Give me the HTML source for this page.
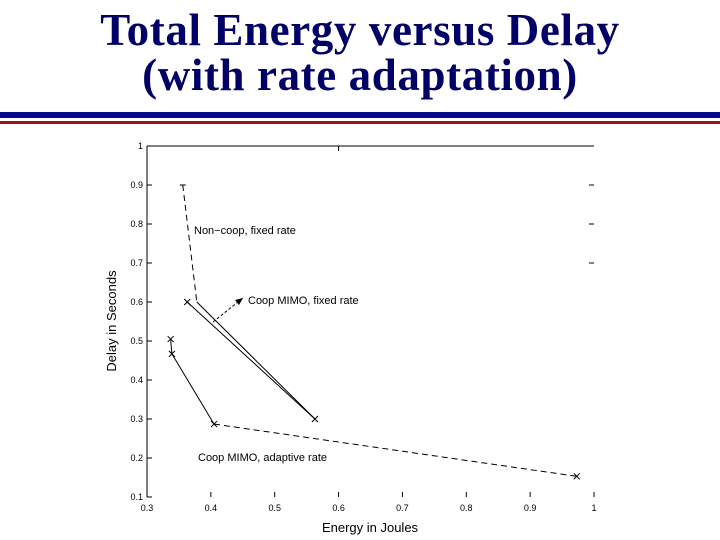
<!DOCTYPE html>
<html><head><meta charset="utf-8"><style>
body{margin:0;background:#fff;width:720px;height:540px;overflow:hidden;position:relative;font-family:"Liberation Sans",sans-serif}
#title{position:absolute;left:0;width:720px;top:8px;text-align:center;font-family:"Liberation Serif",serif;font-weight:bold;font-size:45px;letter-spacing:0.6px;line-height:45px;color:#000066}
</style></head><body>
<div id="title">Total Energy versus Delay<br>(with rate adaptation)</div>
<div style="position:absolute;left:0;top:112px;width:720px;height:6px;background:#0a0a8a"></div>
<div style="position:absolute;left:0;top:121px;width:720px;height:3px;background:#a01020"></div>
<svg id="chart" width="720" height="540" style="position:absolute;left:0;top:0" font-family="Liberation Sans, sans-serif"></svg>
<script>
const xTicks=[0.3,0.4,0.5,0.6,0.7,0.8,0.9,1];
const yTicks=[0.1,0.2,0.3,0.4,0.5,0.6,0.7,0.8,0.9,1];
const noncoopX=[0.356,0.378,0.563];
const noncoopY=[0.9,0.6,0.3];
const coopFixedX=[0.363,0.563];
const coopFixedY=[0.6,0.3];
const adaptiveX=[0.337,0.339,0.405,0.973];
const adaptiveY=[0.505,0.467,0.287,0.153];
const X=v=>147+(v-0.3)/0.7*447;
const Y=v=>497-(v-0.1)/0.9*351;
const svg=document.getElementById('chart');
const NS='http://www.w3.org/2000/svg';
function mk(t,a,p){const e=document.createElementNS(NS,t);for(const k in a)e.setAttribute(k,a[k]);(p||svg).appendChild(e);return e;}
let e;
e=mk('line',{x1:147,y1:146,x2:594,y2:146,stroke:'#000','stroke-width':1});


e=mk('line',{x1:147,y1:146,x2:147,y2:497,stroke:'#000','stroke-width':1});


xTicks.forEach((t,i)=>{
 e=mk('line',{x1:X(t),y1:497,x2:X(t),y2:492,stroke:'#000'});
 
 
 e=mk('text',{x:X(t),y:511,'font-size':9,'text-anchor':'middle',fill:'#000'});e.textContent=String(t);
 
 
});
e=mk('line',{x1:X(0.6),y1:146,x2:X(0.6),y2:151,stroke:'#000'});


yTicks.forEach((t,i)=>{
 e=mk('line',{x1:147,y1:Y(t),x2:152,y2:Y(t),stroke:'#000'});
 
 
 if(t>=0.7&&t<=0.9){e=mk('line',{x1:589,y1:Y(t),x2:594,y2:Y(t),stroke:'#000'});
 
 }
 e=mk('text',{x:143,y:Y(t)+3,'font-size':9,'text-anchor':'end',fill:'#000'});e.textContent=t===1?'1':t.toFixed(1);
 
 
});
e=mk('text',{x:370,y:532,'font-size':13,'text-anchor':'middle'});e.textContent='Energy in Joules';


e=mk('text',{x:116,y:321,'font-size':13,'text-anchor':'middle',transform:'rotate(-90 116 321)'});e.textContent='Delay in Seconds';


function seg(xs,ys,i,dash,name){e=mk('line',{x1:X(xs[i]),y1:Y(ys[i]),x2:X(xs[i+1]),y2:Y(ys[i+1]),stroke:'#000','stroke-width':1,'stroke-dasharray':dash});
 
 }
function cross(x,y,name){e=mk('path',{d:`M${X(x)-3},${Y(y)-3}L${X(x)+3},${Y(y)+3}M${X(x)-3},${Y(y)+3}L${X(x)+3},${Y(y)-3}`,stroke:'#000','stroke-width':1});
 
 }
seg(noncoopX,noncoopY,0,'6,4','noncoop-line');
seg(noncoopX,noncoopY,1,'','noncoop-line');
e=mk('path',{d:`M${X(noncoopX[0])-3},${Y(noncoopY[0])}h6`,stroke:'#000'});


for(let i=0;i<coopFixedX.length-1;i++)seg(coopFixedX,coopFixedY,i,'','coop-fixed-line');
coopFixedX.forEach((x,i)=>cross(x,coopFixedY[i],'coop-fixed-marker'));
seg(adaptiveX,adaptiveY,0,'','adaptive-line');
seg(adaptiveX,adaptiveY,1,'','adaptive-line');
seg(adaptiveX,adaptiveY,2,'6,4','adaptive-line');
adaptiveX.forEach((x,i)=>cross(x,adaptiveY[i],'adaptive-marker'));
e=mk('line',{x1:213,y1:322,x2:243,y2:298,stroke:'#000','stroke-dasharray':'3,2'});


e=mk('path',{d:'M243,298 L235,300 L239,305Z',fill:'#000'});


[['Non\u2212coop, fixed rate',194,234,'label-noncoop'],['Coop MIMO, fixed rate',248,304,'label-coop-fixed'],['Coop MIMO, adaptive rate',198,461,'label-coop-adaptive']].forEach(l=>{
 e=mk('text',{x:l[1],y:l[2],'font-size':11});e.textContent=l[0];
 
 
});
</script>
</body></html>
